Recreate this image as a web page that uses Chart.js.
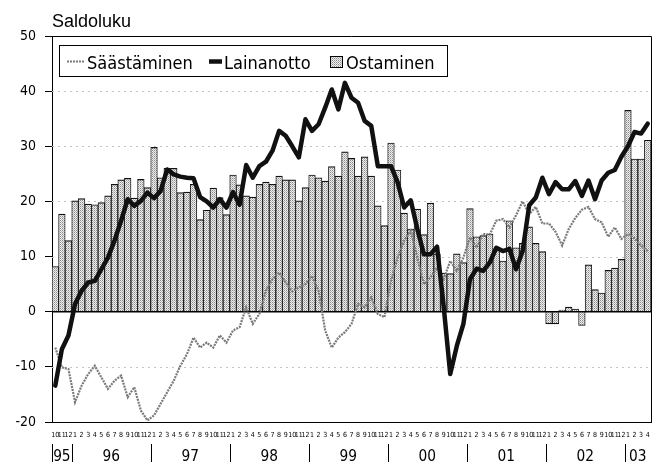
<!DOCTYPE html>
<html><head><meta charset="utf-8">
<style>html,body{margin:0;padding:0;background:#fff;overflow:hidden}canvas{display:block}</style>
<script src="https://cdn.jsdelivr.net/npm/chart.js@4.4.1/dist/chart.umd.min.js"></script>
</head><body>
<canvas id="c" width="661" height="462"></canvas>
<script>
// ---- data ----
const years = ['95','96','97','98','99','00','01','02','03'];
const yearMonths = [3,12,12,12,12,12,12,12,4];
const firstMonth = 10;
const yTicks = [-20,-10,0,10,20,30,40,50];
const seriesNames = ['Säästäminen','Lainanotto','Ostaminen'];
const axisTitle = 'Saldoluku';

const saastaminen = [
  -6.5,-10.1,-10.4,
  -16.4,-13.4,-11.3,-9.8,-11.9,-14.0,-12.5,-11.6,-15.5,-13.7,-17.9,-19.7,
  -18.8,-16.7,-14.6,-12.5,-9.8,-7.7,-4.7,-6.5,-5.6,-6.5,-4.3,-5.6,
  -3.4,-2.8,0.8,-2.2,-0.4,3.8,5.9,7.1,5.3,3.7,4.4,5.0,
  6.5,3.8,-3.4,-6.5,-4.7,-3.7,-2.2,1.4,0.8,2.6,-0.4,-1.0,
  5.6,9.8,12.9,14.7,9.8,5.0,6.2,8.0,5.9,9.2,7.4,9.8,
  13.5,11.6,14.1,14.0,16.5,16.8,15.3,17.5,20.0,17.7,19.0,16.0,
  16.0,14.5,12.0,15.0,17.0,18.5,19.0,16.8,16.2,13.6,15.3,13.2,
  14.1,13.3,12.0,11.0
];
const lainanotto = [
  -13.4,-6.8,-4.3,
  1.4,3.8,5.3,5.6,7.7,9.8,12.9,16.5,20.4,19.2,20.1,21.6,
  20.6,21.9,25.8,24.9,24.5,24.3,24.2,20.8,20.0,18.9,20.4,18.9,
  21.7,19.4,26.6,24.3,26.4,27.2,29.2,32.8,31.9,30.0,28.0,34.9,
  32.8,34.0,37.0,40.3,36.7,41.5,38.8,37.9,34.6,33.7,26.4,26.4,
  26.4,23.5,18.9,20.2,15.0,10.4,10.4,11.8,1.0,-11.3,-6.2,-2.2,
  5.9,7.8,7.4,8.9,11.6,11.0,11.4,7.7,11.0,19.3,20.7,24.3,
  21.3,23.5,22.2,22.2,23.7,21.0,23.8,20.4,23.8,25.2,25.7,28.1,
  30.0,32.6,32.3,34.1
];
const ostaminen = [
  8.2,17.7,12.9,
  20.1,20.5,19.5,19.4,19.8,21.0,23.1,23.9,24.2,20.6,24.0,22.5,
  29.8,24.3,26.0,26.0,21.6,21.7,23.1,16.7,18.4,22.4,20.7,17.6,
  24.8,23.0,21.0,20.8,23.1,23.5,23.1,24.6,23.9,23.9,20.1,22.5,
  24.8,24.3,23.7,26.3,24.6,29.0,27.8,24.6,28.1,24.6,19.2,15.6,
  30.6,25.7,17.9,15.0,18.6,14.0,19.7,10.5,7.0,6.9,10.5,8.9,
  18.7,13.6,13.8,14.1,11.4,9.2,16.5,11.6,12.4,15.4,12.4,10.9,
  -2.2,-2.2,0.3,0.85,0.5,-2.5,8.5,4.0,3.4,7.5,7.9,9.5,
  36.5,27.7,27.7,31.1
];

// ---- month category labels ----
const monthLabels = [];
let mm = firstMonth;
years.forEach((y, yi) => { for (let k = 0; k < yearMonths[yi]; k++) { monthLabels.push(String(mm)); mm = mm % 12 + 1; } });

// ---- fonts ----
const mctx = document.createElement('canvas').getContext('2d');
function hasFont(f){
  mctx.font = '40px monospace'; const a = mctx.measureText('Säästäminen 0123').width;
  mctx.font = '40px "' + f + '", monospace'; const b = mctx.measureText('Säästäminen 0123').width;
  return Math.abs(a - b) > 0.5;
}
const NARROW = hasFont('Liberation Sans Narrow') ? '"Liberation Sans Narrow"' :
               (hasFont('DejaVu Sans Condensed') ? '"DejaVu Sans Condensed"' : '"Liberation Sans"');
const REG = '"Liberation Sans", Arial, sans-serif';
function fit(fam, text, w){ mctx.font = '100px ' + fam; return 100 * w / mctx.measureText(text).width; }
const monthSize = 7;
const yTickSize = Math.min(18, fit(NARROW, '50', 16));
const yearSize = Math.min(19, fit(NARROW, '96', 17.5));
const legendSize = Math.min(22, fit(NARROW, seriesNames[0], 106));
const titleSize = Math.min(18, fit(REG, axisTitle, 84));

// ---- patterns ----
function makePattern(bg, dots, size){
  const c = document.createElement('canvas'); c.width = c.height = size;
  const g = c.getContext('2d'); g.fillStyle = bg; g.fillRect(0,0,size,size);
  dots.forEach(([x,y,col]) => { g.fillStyle = col; g.fillRect(x,y,1,1); });
  return g.createPattern(c, 'repeat');
}
const barFill = makePattern('#eeeeee', [[0,0,'#8a8a8a'],[1,1,'#b8b8b8']], 2);
const savColor = '#7a7a7a';
const savDash = [2, 1];

// ---- decoration plugin ----
const deco = {
  id: 'deco',
  beforeDatasetsDraw(chart){
    const {ctx, chartArea: a, scales: {y}} = chart;
    ctx.save(); ctx.strokeStyle = '#c4c4c4'; ctx.lineWidth = 1; ctx.setLineDash([2,4]);
    yTicks.forEach(v => {
      if (v === 0 || v === y.min || v === y.max) return;
      const py = Math.round(y.getPixelForValue(v)) + 0.5;
      ctx.beginPath(); ctx.moveTo(a.left, py); ctx.lineTo(a.right, py); ctx.stroke();
    });
    ctx.restore();
  },
  afterDatasetDraw(chart, args){
    if (args.index !== 0) return;
    const {ctx, chartArea: a, scales: {y}} = chart;
    const py = y.getPixelForValue(0);
    ctx.save(); ctx.strokeStyle = '#000'; ctx.lineWidth = 1.4;
    ctx.beginPath(); ctx.moveTo(a.left, py); ctx.lineTo(a.right, py); ctx.stroke(); ctx.restore();
  },
  afterDraw(chart){
    const {ctx, chartArea: a, scales: {x}} = chart;
    ctx.save();
    ctx.strokeStyle = '#000'; ctx.lineWidth = 1;
    ctx.beginPath(); ctx.moveTo(a.left, Math.round(a.top)+0.5); ctx.lineTo(Math.round(a.right)+0.5, Math.round(a.top)+0.5);
    ctx.lineTo(Math.round(a.right)+0.5, a.bottom); ctx.stroke();
    ctx.fillStyle = '#000'; ctx.font = titleSize + 'px ' + REG; ctx.textAlign = 'left'; ctx.textBaseline = 'alphabetic';
    ctx.fillText(axisTitle, 52, 27);
    const half = (x.getPixelForValue(1) - x.getPixelForValue(0)) / 2;
    ctx.font = yearSize + 'px ' + NARROW; ctx.textAlign = 'center';
    let idx = 0;
    years.forEach((yl, yi) => {
      const s = idx, e = idx + yearMonths[yi] - 1; idx += yearMonths[yi];
      const left = x.getPixelForValue(s) - half, right = x.getPixelForValue(e) + half;
      const lx = Math.round(left) + 0.5;
      ctx.beginPath(); ctx.moveTo(lx, 444); ctx.lineTo(lx, 462); ctx.stroke();
      ctx.fillText(yl, (left + right) / 2, 461);
    });
    // legend
    ctx.fillStyle = '#fff'; ctx.fillRect(59.5, 45.5, 388, 31);
    ctx.strokeStyle = '#000'; ctx.lineWidth = 1; ctx.strokeRect(59.5, 45.5, 388, 31);
    ctx.strokeStyle = savColor; ctx.lineWidth = 2.2; ctx.setLineDash(savDash);
    ctx.beginPath(); ctx.moveTo(67, 61.5); ctx.lineTo(85, 61.5); ctx.stroke();
    ctx.setLineDash([]);
    ctx.strokeStyle = '#111'; ctx.lineWidth = 4.5;
    ctx.beginPath(); ctx.moveTo(209, 61.5); ctx.lineTo(222, 61.5); ctx.stroke();
    ctx.fillStyle = barFill; ctx.fillRect(330.5, 56.5, 12, 11);
    ctx.strokeStyle = '#000'; ctx.lineWidth = 1; ctx.strokeRect(330.5, 56.5, 12, 11);
    ctx.fillStyle = '#000'; ctx.font = legendSize + 'px ' + NARROW; ctx.textAlign = 'left';
    ctx.fillText(seriesNames[0], 87, 69);
    ctx.fillText(seriesNames[1], 224, 69);
    ctx.fillText(seriesNames[2], 346, 69);
    ctx.restore();
  }
};

new Chart(document.getElementById('c').getContext('2d'), {
  type: 'bar',
  data: {
    labels: monthLabels,
    datasets: [
      { type: 'bar', label: seriesNames[2], data: ostaminen, backgroundColor: barFill, borderColor: '#111',
        borderWidth: {top: 1.2, bottom: 1.2, left: 0.9, right: 0.9}, borderSkipped: 'start',
        barPercentage: 1, categoryPercentage: 1, order: 3 },
      { type: 'line', label: seriesNames[0], data: saastaminen, borderColor: savColor, borderWidth: 2.2,
        borderDash: savDash, pointRadius: 0, tension: 0, fill: false, order: 2 },
      { type: 'line', label: seriesNames[1], data: lainanotto, borderColor: '#111', borderWidth: 4.5,
        pointRadius: 0, tension: 0, fill: false, borderJoinStyle: 'round', borderCapStyle: 'round', order: 1 }
    ]
  },
  options: {
    responsive: false, animation: false, devicePixelRatio: 1,
    layout: {padding: {top: 36, right: 10, left: 0, bottom: 0}},
    plugins: {legend: {display: false}, tooltip: {enabled: false}},
    scales: {
      x: {
        grid: {display: false, drawTicks: false},
        border: {display: true, color: '#000', width: 1},
        ticks: {autoSkip: false, maxRotation: 0, minRotation: 0, padding: 9, color: '#000',
                font: {family: NARROW, size: monthSize}},
        afterFit: s => { s.height = 40; }
      },
      y: {
        min: -20, max: 50,
        ticks: {stepSize: 10, padding: 9, color: '#000', font: {family: NARROW, size: yTickSize}},
        grid: {drawOnChartArea: false, drawTicks: true, tickLength: 7, tickColor: '#000', tickWidth: 1},
        border: {display: true, color: '#000', width: 1},
        afterFit: s => { s.width = 52; }
      }
    }
  },
  plugins: [deco]
});
</script>
</body></html>
